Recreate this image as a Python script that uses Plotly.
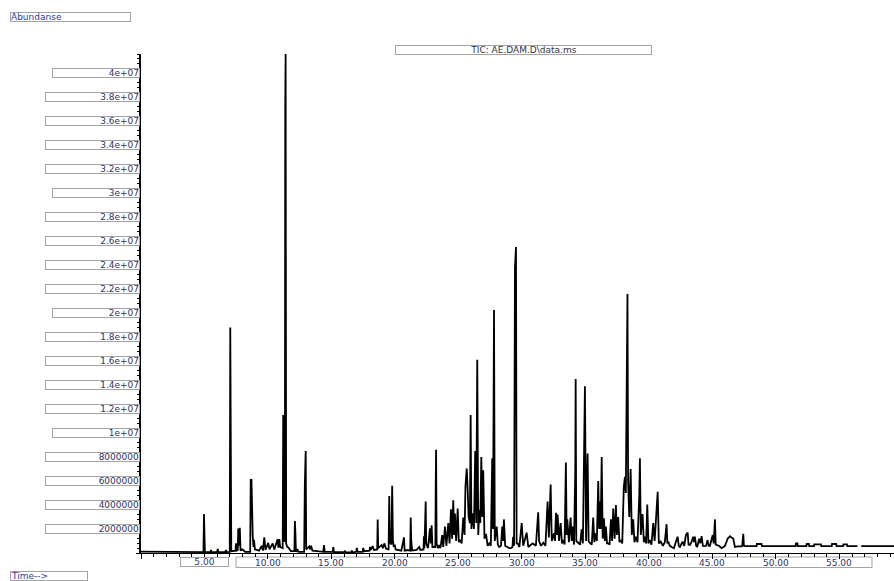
import plotly.graph_objects as go

# ---------------- data ----------------
retention_time_min = [
    0.00, 0.55, 0.62, 2.50, 4.20, 4.92, 4.96, 4.99, 5.03, 5.45, 5.51, 5.56, 6.00, 6.04, 6.09,
    6.64, 6.69, 6.74, 6.99, 7.03, 7.07, 7.11, 7.44, 7.48, 7.53, 7.62, 7.66, 7.71, 7.78, 7.84,
    7.98, 8.20, 8.60, 8.64, 8.70, 8.74, 8.80, 8.86, 8.90, 8.97, 9.30, 9.50, 9.60, 9.71, 9.80,
    10.02, 10.12, 10.37, 10.50, 10.76, 10.82, 10.89, 10.96, 11.16, 11.20, 11.24, 11.33, 11.36, 11.39, 11.43,
    11.50, 11.65, 11.80, 12.08, 12.12, 12.16, 12.20, 12.31, 12.40, 12.85, 12.90, 12.97, 13.01, 13.25, 13.32,
    13.39, 13.50, 14.35, 14.41, 14.47, 15.10, 15.14, 15.20, 16.00, 16.06, 16.12, 16.55, 16.60, 16.66, 16.95,
    17.00, 17.06, 17.45, 17.50, 17.56, 18.00, 18.03, 18.10, 18.24, 18.35, 18.60, 18.64, 18.68, 18.95, 19.05,
    19.16, 19.30, 19.50, 19.55, 19.60, 19.72, 19.78, 19.84, 19.90, 19.98, 20.05, 20.50, 20.71, 20.76, 21.00,
    21.20, 21.24, 21.28, 21.35, 21.70, 21.91, 22.00, 22.25, 22.28, 22.32, 22.42, 22.46, 22.60, 22.76, 22.82,
    22.89, 22.95, 23.18, 23.21, 23.24, 23.28, 23.40, 23.49, 23.58, 23.72, 23.80, 23.94, 24.05, 24.20, 24.30,
    24.41, 24.50, 24.59, 24.66, 24.72, 24.82, 24.94, 25.03, 25.12, 25.25, 25.38, 25.48, 25.55, 25.65, 25.72,
    25.80, 25.90, 25.96, 26.02, 26.12, 26.22, 26.32, 26.40, 26.48, 26.56, 26.64, 26.72, 26.80, 26.88, 26.95,
    27.05, 27.17, 27.30, 27.43, 27.55, 27.66, 27.72, 27.80, 27.86, 28.01, 28.10, 28.21, 28.35, 28.45, 28.52,
    28.58, 28.68, 28.80, 29.00, 29.13, 29.25, 29.31, 29.38, 29.45, 29.53, 29.58, 29.66, 29.80, 29.98, 30.10,
    30.37, 30.50, 30.84, 31.10, 31.28, 31.35, 31.50, 31.68, 31.85, 32.02, 32.12, 32.26, 32.35, 32.52, 32.60,
    32.68, 32.75, 32.81, 32.92, 33.05, 33.15, 33.25, 33.36, 33.46, 33.52, 33.57, 33.70, 33.83, 33.92, 33.99,
    34.10, 34.20, 34.23, 34.28, 34.43, 34.58, 34.70, 34.80, 34.96, 35.05, 35.17, 35.25, 35.35, 35.50, 35.61,
    35.70, 35.80, 35.90, 36.01, 36.08, 36.14, 36.20, 36.28, 36.36, 36.46, 36.53, 36.61, 36.70, 36.80, 36.90,
    37.01, 37.10, 37.19, 37.30, 37.40, 37.48, 37.58, 37.68, 37.77, 37.90, 38.02, 38.11, 38.18, 38.25, 38.31,
    38.36, 38.45, 38.56, 38.65, 38.76, 38.86, 38.98, 39.10, 39.24, 39.29, 39.36, 39.50, 39.60, 39.69, 39.78,
    39.87, 39.96, 40.08, 40.20, 40.34, 40.45, 40.61, 40.69, 40.78, 40.92, 41.10, 41.25, 41.39, 41.45, 41.52,
    41.65, 41.79, 41.97, 42.13, 42.26, 42.35, 42.44, 42.65, 42.78, 42.91, 43.05, 43.12, 43.23, 43.35, 43.49,
    43.55, 43.62, 43.72, 43.80, 43.96, 44.05, 44.15, 44.25, 44.35, 44.50, 44.62, 44.70, 44.80, 45.02, 45.10,
    45.20, 45.26, 45.33, 45.54, 45.72, 45.98, 46.10, 46.20, 46.30, 46.38, 46.50, 46.64, 46.77, 47.00, 47.30,
    47.35, 47.43, 47.48, 47.56, 48.48, 48.50, 48.87, 48.90, 51.55, 51.58, 51.70, 51.72, 52.40, 52.42, 52.60,
    52.62, 53.00, 53.02, 53.55, 53.57, 54.40, 54.42, 54.75, 54.77, 55.30, 55.32, 55.60, 55.62, 56.42, 56.55,
    56.72, 58.00, 59.40,
]

abundance_millions = [
    0.12, 0.12, 0.06, 0.06, 0.07, 0.08, 3.25, 0.95, 0.10, 0.08, 0.25, 0.08, 0.10, 0.35, 0.08,
    0.08, 0.25, 0.08, 0.10, 18.8, 4.90, 0.15, 0.20, 0.80, 0.20, 0.25, 2.05, 0.60, 2.10, 0.20,
    0.30, 0.10, 0.10, 6.10, 6.10, 1.70, 1.40, 0.50, 1.10, 0.30, 0.20, 0.60, 0.20, 1.30, 0.25,
    0.85, 0.30, 0.80, 0.30, 1.15, 0.45, 1.15, 0.50, 0.40, 11.5, 1.00, 1.00, 37.1, 41.6, 0.80,
    0.55, 0.40, 0.15, 0.15, 2.67, 1.60, 0.10, 0.33, 0.10, 0.10, 5.60, 8.50, 0.30, 0.55, 0.30,
    0.60, 0.20, 0.10, 0.65, 0.10, 0.10, 0.50, 0.08, 0.08, 0.15, 0.05, 0.05, 0.20, 0.05, 0.10,
    0.42, 0.10, 0.10, 0.42, 0.15, 0.20, 0.50, 0.25, 0.58, 0.25, 0.30, 2.80, 0.40, 0.67, 0.40,
    0.80, 0.35, 0.30, 4.75, 0.90, 0.70, 5.60, 1.10, 0.50, 0.70, 0.30, 0.20, 1.30, 0.20, 0.25,
    0.20, 2.95, 1.10, 0.20, 0.25, 0.50, 0.25, 0.30, 1.40, 0.40, 4.30, 0.80, 0.40, 2.05, 0.80,
    2.30, 0.50, 0.50, 5.50, 8.60, 0.80, 0.40, 0.67, 0.40, 1.50, 0.50, 2.20, 0.60, 2.50, 0.80,
    3.65, 1.20, 4.40, 1.50, 3.30, 1.00, 3.70, 0.90, 1.10, 0.80, 2.95, 1.50, 5.50, 7.05, 5.50,
    3.00, 2.50, 11.5, 2.00, 3.30, 2.00, 8.50, 2.50, 16.1, 1.50, 3.60, 2.50, 8.00, 3.00, 6.90,
    1.20, 1.60, 0.60, 0.80, 0.60, 7.90, 2.00, 20.25, 1.00, 2.20, 0.70, 0.50, 0.60, 2.20, 1.00,
    2.80, 0.60, 0.50, 0.40, 0.40, 0.50, 1.35, 0.60, 23.75, 25.5, 0.80, 0.80, 0.50, 2.50, 0.60,
    1.70, 0.50, 0.80, 0.60, 3.40, 1.00, 0.60, 0.85, 0.60, 4.30, 1.30, 5.70, 1.00, 1.64, 1.00,
    3.35, 1.50, 3.20, 1.00, 2.50, 0.80, 1.08, 0.70, 7.55, 1.50, 2.80, 0.90, 2.95, 1.00, 2.20,
    0.70, 6.90, 14.5, 1.00, 0.80, 0.70, 1.97, 0.80, 13.9, 1.00, 8.30, 1.00, 0.85, 0.70, 2.95,
    0.90, 1.64, 1.00, 6.00, 2.00, 4.30, 2.00, 8.00, 1.20, 2.90, 1.00, 2.20, 0.80, 0.80, 0.70,
    2.80, 1.00, 3.70, 1.20, 4.00, 1.50, 3.00, 0.90, 1.08, 0.80, 5.50, 6.35, 5.00, 16.25, 21.6,
    6.00, 3.00, 7.00, 1.50, 2.80, 0.90, 1.36, 0.90, 4.80, 7.90, 1.50, 3.25, 0.90, 1.36, 0.80,
    4.05, 0.80, 1.08, 0.70, 2.50, 1.00, 4.00, 5.10, 0.80, 0.95, 0.60, 0.90, 2.40, 0.80, 0.95,
    0.60, 0.50, 0.40, 0.95, 1.36, 0.60, 0.50, 0.95, 0.60, 1.50, 1.70, 0.70, 0.67, 0.90, 1.36,
    0.90, 1.36, 0.60, 0.50, 1.20, 0.80, 1.40, 0.60, 0.58, 0.60, 1.08, 0.60, 0.58, 1.50, 0.80,
    2.80, 0.70, 0.67, 0.58, 0.40, 0.58, 0.90, 1.20, 1.30, 1.40, 1.30, 1.20, 0.50, 0.55, 0.55,
    0.60, 1.60, 0.60, 0.58, 0.58, 0.75, 0.75, 0.58, 0.58, 0.80, 0.80, 0.58, 0.58, 0.75, 0.75,
    0.58, 0.58, 0.72, 0.72, 0.58, 0.58, 0.75, 0.75, 0.58, 0.58, 0.72, 0.72, 0.58, 0.58, None,
    0.58, 0.58, 0.58,
]

ytick_values = [4e7, 3.8e7, 3.6e7, 3.4e7, 3.2e7, 3e7, 2.8e7, 2.6e7, 2.4e7, 2.2e7, 2e7,
                1.8e7, 1.6e7, 1.4e7, 1.2e7, 1e7, 8e6, 6e6, 4e6, 2e6]
ytick_labels = ["4e+07", "3.8e+07", "3.6e+07", "3.4e+07", "3.2e+07", "3e+07", "2.8e+07",
                "2.6e+07", "2.4e+07", "2.2e+07", "2e+07", "1.8e+07", "1.6e+07", "1.4e+07",
                "1.2e+07", "1e+07", "8000000", "6000000", "4000000", "2000000"]
xtick_values = [5, 10, 15, 20, 25, 30, 35, 40, 45, 50, 55]
xtick_labels = ["5.00", "10.00", "15.00", "20.00", "25.00", "30.00", "35.00", "40.00",
                "45.00", "50.00", "55.00"]

y_axis_title = "Abundanse"
x_axis_title = "Time-->"
chart_title = "TIC: AE.DAM.D\\data.ms"

# ---------------- layout geometry (window pixels) ----------------
W, H = 894, 581
# plot area: x 141..894, y 54..553
L, R, T, B = 141, 0, 54, H - 553
PW, PH = W - L - R, H - T - B


def px(xwin):
    return (xwin - L) / PW


def py(ywin):
    return (H - B - ywin) / PH


abundance = [None if v is None else v * 1e6 for v in abundance_millions]

LABEL_FONT = dict(family="DejaVu Sans", size=9, color="#2e3566")
BOX = "#a3a3a3"
BOX_H = 8

fig = go.Figure()
fig.add_trace(go.Scatter(
    x=retention_time_min, y=abundance, mode="lines",
    line=dict(color="#000000", width=1.8), connectgaps=False,
    hoverinfo="x+y", showlegend=False,
))

annotations = []
# y tick labels in boxes
for v, t in zip(ytick_values, ytick_labels):
    wide = len(t) >= 7
    annotations.append(dict(
        x=px(139.5), xref="paper", y=v, yref="y", text=t, showarrow=False,
        xanchor="right", yanchor="middle", align="right",
        width=93 if wide else 86, height=BOX_H,
        bordercolor=BOX, borderwidth=1, borderpad=0, bgcolor="white",
        font=LABEL_FONT,
    ))

# x tick labels
for v, t in zip(xtick_values, xtick_labels):
    if t == "5.00":
        annotations.append(dict(
            x=v, xref="x", y=py(557), yref="paper", text=t, showarrow=False,
            xanchor="center", yanchor="top", width=47, height=BOX_H,
            bordercolor=BOX, borderwidth=1, borderpad=0, bgcolor="white",
            font=LABEL_FONT,
        ))
    else:
        annotations.append(dict(
            x=v, xref="x", y=py(558), yref="paper", text=t, showarrow=False,
            xanchor="center", yanchor="top", height=BOX_H, borderpad=0,
            font=LABEL_FONT,
        ))

annotations.append(dict(
    x=px(10), xref="paper", y=py(12), yref="paper", text=y_axis_title, showarrow=False,
    xanchor="left", yanchor="top", width=119, height=BOX_H, align="left",
    bordercolor=BOX, borderwidth=1, borderpad=0, bgcolor="white",
    font=dict(family="DejaVu Sans", size=9, color="#2b3a9c"),
))
annotations.append(dict(
    x=px(10), xref="paper", y=py(571), yref="paper", text=x_axis_title, showarrow=False,
    xanchor="left", yanchor="top", width=76, height=BOX_H, align="left",
    bordercolor=BOX, borderwidth=1, borderpad=0, bgcolor="white",
    font=dict(family="DejaVu Sans", size=9, color="#2b3a9c"),
))
annotations.append(dict(
    x=px(523.5), xref="paper", y=py(45.5), yref="paper", text=chart_title, showarrow=False,
    xanchor="center", yanchor="top", width=255, height=BOX_H,
    bordercolor=BOX, borderwidth=1, borderpad=0, bgcolor="white",
    font=dict(family="DejaVu Sans", size=9, color="#353545"),
))

shapes = [
    # long shared box behind the 10.00 ... 55.00 labels
    dict(type="rect", xref="paper", yref="paper", x0=px(236), x1=px(872),
         y0=py(567.5), y1=py(557), line=dict(color=BOX, width=1),
         fillcolor="rgba(0,0,0,0)", layer="below"),
]

fig.update_layout(
    width=W, height=H,
    margin=dict(l=L, r=R, t=T, b=B, pad=0),
    paper_bgcolor="white", plot_bgcolor="rgba(0,0,0,0)",
    showlegend=False,
    annotations=annotations,
    shapes=shapes,
    xaxis=dict(
        range=[0, 59.3], showgrid=False, zeroline=False, showticklabels=False,
        showline=True, linecolor="black", linewidth=1,
        ticks="outside", tick0=0, dtick=5, ticklen=5, tickcolor="black", tickwidth=1,
        minor=dict(dtick=1, ticks="outside", ticklen=3, tickcolor="black", tickwidth=1),
        fixedrange=True,
    ),
    yaxis=dict(
        range=[0, 41.6e6], showgrid=False, zeroline=False, showticklabels=False,
        showline=True, linecolor="black", linewidth=1.5,
        ticks="outside", tick0=0, dtick=2e6, ticklen=3, tickcolor="black", tickwidth=1,
        minor=dict(dtick=4e5, ticks="outside", ticklen=2, tickcolor="black", tickwidth=1),
        fixedrange=True,
    ),
)

fig.write_html(
    "out.html",
    config={"displayModeBar": False},
    post_script="document.body.style.margin='0';document.body.style.overflow='hidden';",
)
